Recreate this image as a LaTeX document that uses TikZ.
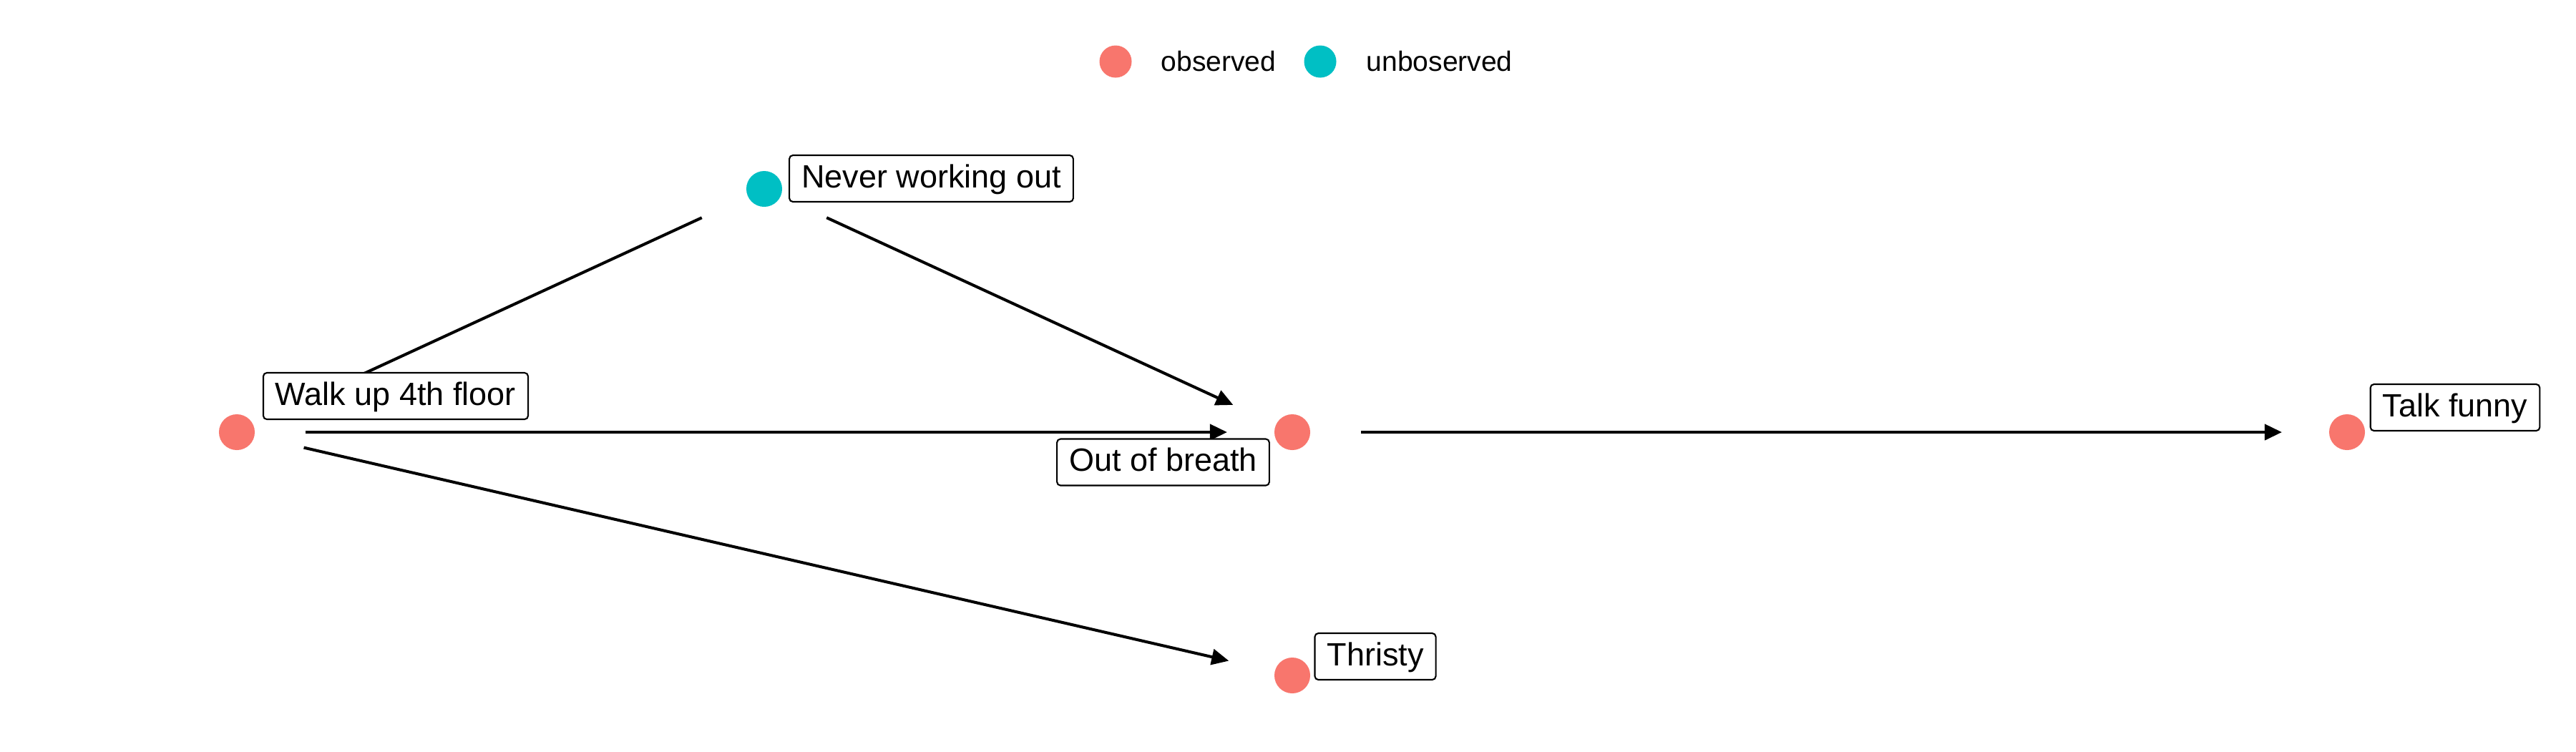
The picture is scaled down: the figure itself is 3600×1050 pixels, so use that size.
\documentclass[tikz,border=0pt]{standalone}
\usepackage{fontspec}
\setmainfont{Liberation Sans}
\usetikzlibrary{arrows.meta}
\definecolor{obs}{HTML}{F8766D}
\definecolor{unobs}{HTML}{00BFC4}
\tikzset{
  dot/.style={circle, inner sep=0pt, minimum size=0.5cm, fill=#1, draw=none},
  lbl/.style={draw=black, line width=0.6pt, fill=white, rounded corners=0.05cm,
    font=\fontsize{12.8}{15}\selectfont, text height=0.716em, text depth=0pt,
    inner xsep=0.17cm, inner ysep=0pt, minimum height=0.65cm},
  edge/.style={line width=1.15pt, -{Triangle[length=0.24cm,width=0.22cm]},
    shorten <=0.96cm, shorten >=0.91cm},
  leg/.style={anchor=west, inner sep=0pt, font=\fontsize{11.1}{13}\selectfont}
}
\begin{document}
\begin{tikzpicture}[x=0.01cm,y=-0.01cm]
\useasboundingbox (0,0) rectangle (3600,1050);
\fill[white] (0,0) rectangle (3600,1050);
% legend
\node[dot=obs, minimum size=0.45cm] (lo) at (1559,86) {};
\node[leg] (lot) at (1622,86) {observed};
\node[dot=unobs, minimum size=0.45cm] (lu) at (1845,86) {};
\node[leg] (lut) at (1909,86) {unboserved};
% dots
\node[dot=obs] (walk) at (331,604) {};
\node[dot=unobs] (never) at (1068,264) {};
\node[dot=obs] (out) at (1806,604) {};
\node[dot=obs] (talk) at (3280,604) {};
\node[dot=obs] (thirst) at (1806,944) {};
% edges
\draw[edge] (never.center) -- (walk.center);
\draw[edge] (never.center) -- (out.center);
\draw[edge] (walk.center) -- (out.center);
\draw[edge] (walk.center) -- (thirst.center);
\draw[edge] (out.center) -- (talk.center);
% labels
\node[lbl] (walkl) at (553,553.5) {Walk up 4th floor};
\node[lbl] (neverl) at (1301.5,249.5) {Never working out};
\node[lbl] (outl) at (1625.5,646) {Out of breath};
\node[lbl] (talkl) at (3431,569.5) {Talk funny};
\node[lbl] (thirstl) at (1922,917.5) {Thristy};
\end{tikzpicture}
\end{document}
